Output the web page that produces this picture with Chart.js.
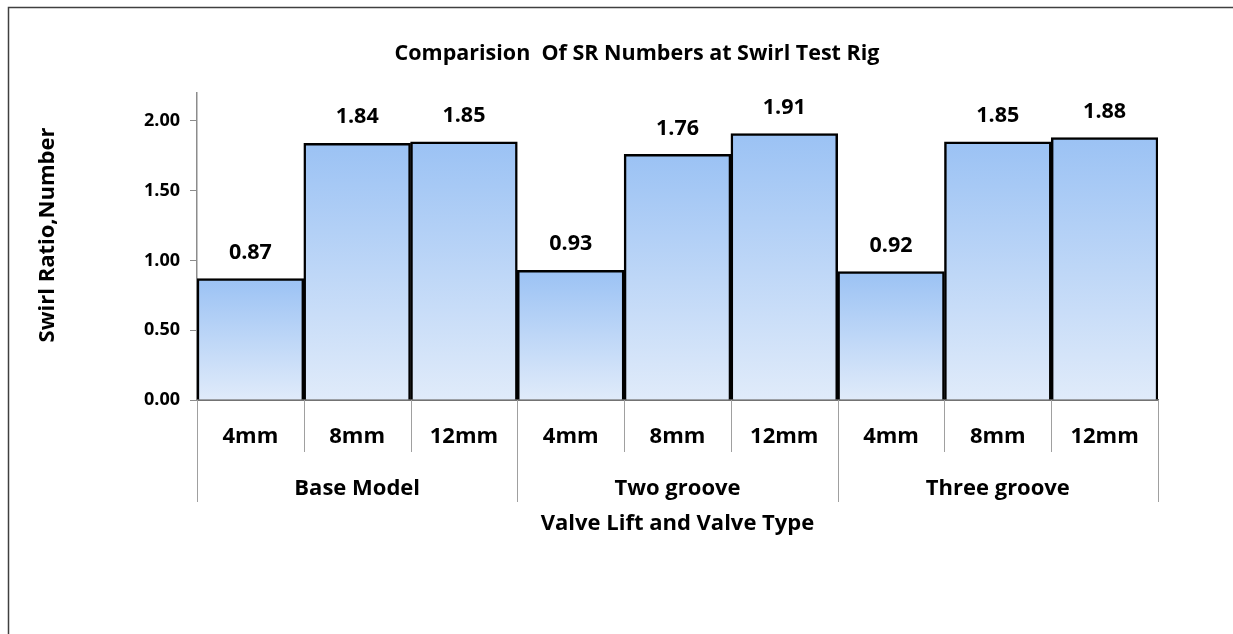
<!DOCTYPE html>
<html>
<head>
<meta charset="utf-8">
<script src="https://cdn.jsdelivr.net/npm/chart.js@4.4.1/dist/chart.umd.min.js"></script>
<style>
  html, body { margin: 0; padding: 0; background: #fff; }
  #wrap { width: 1233px; height: 634px; position: relative; }
</style>
</head>
<body>
<div id="wrap"><canvas id="c"></canvas></div>
<script>
const chartTitle = 'Comparision  Of SR Numbers at Swirl Test Rig';
const yTitle = 'Swirl Ratio,Number';
const xTitle = 'Valve Lift and Valve Type';
const groups = ['Base Model', 'Two groove', 'Three groove'];
const lifts = ['4mm', '8mm', '12mm'];
const swirlRatio = [0.87, 1.84, 1.85, 0.93, 1.76, 1.91, 0.92, 1.85, 1.88];
const yTicks = [0, 0.5, 1.0, 1.5, 2.0];

// multi-level category labels: lift on line 1, group name under the middle bar
const labels = [];
groups.forEach(g => lifts.forEach((l, j) => labels.push([l, j === 1 ? g : ''])));

const FONT = "'Open Sans', 'DejaVu Sans', sans-serif";

const decor = {
  id: 'decor',
  beforeDraw(chart) {
    const c = chart.ctx;
    c.save();
    c.strokeStyle = '#404040';
    c.lineWidth = 1.5;
    c.beginPath();
    c.moveTo(8.5, 640); c.lineTo(8.5, 7.5); c.lineTo(1240, 7.5);
    c.stroke();
    c.restore();
  },
  afterDraw(chart) {
    const c = chart.ctx;
    const xs = chart.scales.x;
    const base = chart.chartArea.bottom;
    const half = (xs.getPixelForValue(1) - xs.getPixelForValue(0)) / 2;
    c.save();
    // category / group separators below the axis
    c.strokeStyle = '#a0a0a0';
    c.lineWidth = 1;
    for (let i = 0; i <= labels.length; i++) {
      const x = Math.round(xs.getPixelForValue(i) - half) + 0.5;
      const len = (i % lifts.length === 0) ? 102 : 52;
      c.beginPath(); c.moveTo(x, base); c.lineTo(x, base + len); c.stroke();
    }
    // value labels
    c.fillStyle = '#000';
    c.font = `bold 21.5px ${FONT}`;
    c.textAlign = 'center';
    c.textBaseline = 'middle';
    const meta = chart.getDatasetMeta(0);
    meta.data.forEach((bar, i) => {
      c.fillText(swirlRatio[i].toFixed(2), bar.x, bar.y - 26);
    });
    // titles
    c.font = `bold 21.5px ${FONT}`;
    c.fillText(chartTitle, 637, 54);
    c.font = `bold 22px ${FONT}`;
    c.fillText(xTitle, (chart.chartArea.left + chart.chartArea.right) / 2, 524);
    c.translate(48, 235);
    c.rotate(-Math.PI / 2);
    c.fillText(yTitle, 0, 0);
    c.restore();
  }
};

new Chart(document.getElementById('c'), {
  type: 'bar',
  data: {
    labels: labels,
    datasets: [{
      data: swirlRatio,
      backgroundColor: (ctx) => {
        const chart = ctx.chart;
        if (!chart.chartArea || !ctx.parsed) return '#b8d3f6';
        const ys = chart.scales.y;
        const top = ys.getPixelForValue(ctx.parsed.y);
        const bot = ys.getPixelForValue(0);
        const g = chart.ctx.createLinearGradient(0, top, 0, bot);
        g.addColorStop(0, '#9bc2f4');
        g.addColorStop(1, '#e0ebfa');
        return g;
      },
      borderColor: '#000',
      borderWidth: 2.5,
      categoryPercentage: 1.0,
      barPercentage: 1.0
    }]
  },
  options: {
    responsive: true,
    maintainAspectRatio: false,
    animation: false,
    layout: { padding: { top: 93, left: 97, right: 75, bottom: 0 } },
    plugins: { legend: { display: false }, tooltip: { enabled: false }, title: { display: false } },
    scales: {
      x: {
        grid: { display: false },
        border: { display: true, color: '#737373', width: 2 },
        ticks: {
          autoSkip: false, maxRotation: 0, minRotation: 0,
          padding: 3, color: '#000',
          font: { family: FONT, size: 22, weight: 'bold', lineHeight: '52px' }
        },
        afterFit: (s) => { s.height = 234; }
      },
      y: {
        min: 0, max: 2.2,
        grid: { drawOnChartArea: false, drawTicks: true, tickLength: 7, color: '#8c8c8c' },
        border: { display: true, color: '#8c8c8c', width: 1.5 },
        ticks: {
          padding: 10, color: '#000',
          font: { family: FONT, size: 18, weight: 'bold' },
          callback: (v) => Number(v).toFixed(2)
        },
        afterBuildTicks: (s) => { s.ticks = yTicks.map(v => ({ value: v })); },
        afterFit: (s) => { s.width = 100; }
      }
    }
  },
  plugins: [decor]
});
</script>
</body>
</html>
